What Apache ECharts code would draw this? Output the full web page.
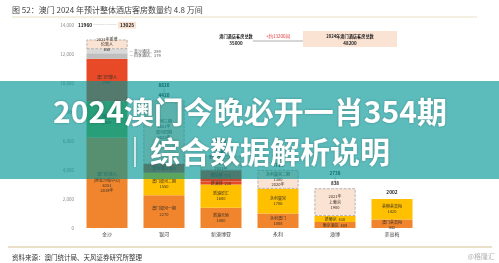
<!DOCTYPE html>
<html><head><meta charset="utf-8">
<script src="https://cdn.jsdelivr.net/npm/echarts@6/dist/echarts.min.js"></script>
<style>html,body{margin:0;padding:0;background:#fff}#c{width:499px;height:263px}</style>
</head><body><div id="c"></div>
<script>
// ---------------- data ----------------
const categories = ['金沙', '银河', '新濠博亚', '永利', '澳博', '美高梅'];

const sandsRooms  = [6251, 2509, 2947, 379, 289, 650];
const sandsKinds  = ['orange', 'green', 'red', 'grayDark', 'grayLight', 'newBox'];
const sandsLabels = ['澳门伦敦人\n(原金沙城中心)\n6251\n2019年', '澳门威尼斯人\n2509', '澳门巴黎人\n2947', '四季酒店，379', '金沙酒店，289', '2021年新增\n伦敦人\n650'];

const galaxyRooms  = [2270, 1550, 600, 4400];
const galaxyKinds  = ['orange', 'yellow', 'dark', 'newBox'];
const galaxyLabels = ['澳门银河一期\n2270', '澳门银河二期\n1550', '星际酒店 600', '银河三期\n2021年\n银河四期\n2023年\n4400'];

const melcoRooms  = [1400, 1600, 216, 772, 999];
const melcoKinds  = ['orange', 'yellow', 'red', 'dark', 'newBox'];
const melcoLabels = ['新濠天地\n1400', '新濠影汇\n1600', '新濠锋  216', '摩珀斯  772', '新濠影汇二期\n999\n2021年'];

const wynnRooms  = [1008, 1706, 1300];
const wynnKinds  = ['orange', 'yellow', 'newBox'];
const wynnLabels = ['永利澳门\n1008', '永利皇宫\n1706', '永利皇宫二期\n1300\n2020年'];

const sjmRooms  = [408, 430, 1900];
const sjmKinds  = ['orange', 'yellow', 'newBox'];
const sjmLabels = ['葡京酒店  408', '新葡京  430', '2021年\n上葡京\n1900'];

const mgmRooms  = [582, 1420];
const mgmKinds  = ['orange', 'yellow'];
const mgmLabels = ['澳门美高梅\n582', '美狮美高梅\n1420'];

const plannedTotals  = ['13025', '8820', '4987', '4014', '2738', '2002'];
const existingTotals = ['11960', '4420', '3988', '2714', '838', ''];

const title = '图 52：澳门 2024 年预计整体酒店客房数量约 4.8 万间';
const source = '资料来源：澳门统计局、天风证券研究所整理';
const bannerLine1 = '2024澳门今晚必开一肖354期';
const bannerLine2 = '｜综合数据解析说明';
const totalNow = '35000';
const totalAdd = '+约13200间';
const total2024 = '48200';

// ---------------- build ----------------
const kindColors = {
  orange: '#f0852d', yellow: '#ffc000', red: '#e84a27', green: '#70ad47',
  grayDark: '#bfbfbf', grayLight: '#d9d9d9', dark: '#d04a2a', newBox: '#fbe3d3'
};
const companies = [
  { rooms: sandsRooms, kinds: sandsKinds, labels: sandsLabels },
  { rooms: galaxyRooms, kinds: galaxyKinds, labels: galaxyLabels },
  { rooms: melcoRooms, kinds: melcoKinds, labels: melcoLabels },
  { rooms: wynnRooms, kinds: wynnKinds, labels: wynnLabels },
  { rooms: sjmRooms, kinds: sjmKinds, labels: sjmLabels },
  { rooms: mgmRooms, kinds: mgmKinds, labels: mgmLabels }
];
const FONT = '"Noto Sans CJK SC", "Noto Sans", sans-serif';
const layers = Math.max(...companies.map(c => c.rooms.length));
const series = [];
for (let i = 0; i < layers; i++) {
  series.push({
    type: 'bar', stack: 'all', barWidth: 41, z: 2,
    data: companies.map((c, j) => {
      if (i >= c.rooms.length) return { value: null };
      const kind = c.kinds[i];
      const txt = c.labels[i];
      const item = {
        value: c.rooms[i],
        itemStyle: { color: kindColors[kind] },
        label: {
          show: true, position: 'inside', fontSize: 4, lineHeight: 5.3,
          color: '#3b2f25', formatter: () => txt
        }
      };
      if (kind === 'newBox') {
        item.itemStyle.borderColor = '#9a9a9a';
        item.itemStyle.borderType = 'dashed';
        item.itemStyle.borderWidth = 0.7;
      }
      if (kind === 'grayDark' || kind === 'grayLight') {
        item.label.position = 'right';
        item.label.distance = 2;
        item.label.color = '#555';
        item.label.formatter = () => '— ' + txt;
      }
      if (j === 5 && i === 0) {
        item.label.position = 'bottom';
        item.label.distance = 0;
        item.label.offset = [0, -8];
      }
      return item;
    })
  });
}
// totals label series (zero-height at stack top)
series.push({
  type: 'bar', stack: 'all', barWidth: 41, z: 3,
  itemStyle: { color: 'rgba(0,0,0,0)' },
  data: companies.map((c, j) => {
    let label;
    if (j === 0) {
      label = {
        show: true, position: 'top', distance: 11,
        formatter: () => '{a|' + existingTotals[0] + '}{l| ―――――― }{b|' + plannedTotals[0] + '}',
        rich: {
          a: { fontSize: 4.8, fontWeight: 'bold', color: '#222' },
          l: { fontSize: 4, color: '#666' },
          b: { fontSize: 4.8, fontWeight: 'bold', color: '#222', backgroundColor: '#fbe3d3', padding: [1, 2] }
        }
      };
    } else if (existingTotals[j] === '') {
      label = {
        show: true, position: 'top', distance: 4,
        formatter: () => '{t|' + plannedTotals[j] + '}',
        rich: { t: { fontSize: 4.8, fontWeight: 'bold', color: '#222' } }
      };
    } else {
      label = {
        show: true, position: 'top', distance: 2,
        formatter: () => '{t|' + plannedTotals[j] + '}\n{s||}\n{e|' + existingTotals[j] + '}',
        rich: {
          t: { fontSize: 4.6, fontWeight: 'bold', color: '#222', lineHeight: 5.5 },
          s: { fontSize: 4, color: '#555', lineHeight: 4.5 },
          e: { fontSize: 4.6, fontWeight: 'bold', color: '#222', lineHeight: 5.5 }
        }
      };
    }
    return { value: 0, label };
  })
});

const Z = 100;
const graphic = [
  { type: 'text', x: 12, y: 10, z: Z, style: { text: title, fontSize: 8, fontFamily: FONT, fill: '#444', verticalAlign: 'middle' } },
  { type: 'line', z: Z, shape: { x1: 12, y1: 17, x2: 477, y2: 17 }, style: { stroke: '#eadfc4', lineWidth: 1 } },
  { type: 'text', x: 236, y: 36, z: Z, style: { text: '澳门酒店客房总数', fontSize: 4.2, fontWeight: 'bold', fontFamily: FONT, fill: '#222', align: 'center', verticalAlign: 'middle' } },
  { type: 'text', x: 236, y: 43, z: Z, style: { text: totalNow, fontSize: 4.5, fontWeight: 'bold', fontFamily: FONT, fill: '#222', align: 'center', verticalAlign: 'middle' } },
  { type: 'line', z: Z, shape: { x1: 253, y1: 41, x2: 303, y2: 41 }, style: { stroke: '#777', lineWidth: 0.6 } },
  { type: 'text', x: 278, y: 36, z: Z, style: { text: totalAdd, fontSize: 4.5, fontFamily: FONT, fill: '#e03030', align: 'center', verticalAlign: 'middle' } },
  { type: 'rect', z: Z, shape: { x: 303, y: 31, width: 94, height: 16 }, style: { fill: '#fbe3d3' } },
  { type: 'text', x: 350, y: 36, z: Z, style: { text: '2024年澳门酒店客房总数', fontSize: 4.2, fontWeight: 'bold', fontFamily: FONT, fill: '#222', align: 'center', verticalAlign: 'middle' } },
  { type: 'text', x: 350, y: 43, z: Z, style: { text: total2024, fontSize: 4.5, fontWeight: 'bold', fontFamily: FONT, fill: '#222', align: 'center', verticalAlign: 'middle' } },
  { type: 'line', z: Z, shape: { x1: 8, y1: 247, x2: 492, y2: 247 }, style: { stroke: '#e2d6b4', lineWidth: 1.5 } },
  { type: 'text', x: 12, y: 258, z: Z, style: { text: source, fontSize: 6.5, fontFamily: FONT, fill: '#333', verticalAlign: 'middle' } },
  { type: 'text', x: 495, y: 256, z: Z, style: { text: '@格隆汇', fontSize: 7, fontFamily: FONT, fill: '#b5b5b5', align: 'right', verticalAlign: 'middle' } },
  { type: 'rect', z: Z + 10, shape: { x: 0, y: 81, width: 499, height: 98 }, style: { fill: 'rgba(0,150,150,0.64)' } },
  { type: 'text', x: 250, y: 112, z: Z + 11, style: { text: bannerLine1, fontSize: 30, fontWeight: 'bold', fontFamily: FONT, fill: '#ffffff', align: 'center', verticalAlign: 'middle', textShadowColor: 'rgba(0,0,0,0.25)', textShadowBlur: 3 } },
  { type: 'text', x: 255, y: 152, z: Z + 11, style: { text: bannerLine2, fontSize: 30, fontWeight: 'bold', fontFamily: FONT, fill: '#ffffff', align: 'center', verticalAlign: 'middle', textShadowColor: 'rgba(0,0,0,0.25)', textShadowBlur: 3 } }
];

const chart = echarts.init(document.getElementById('c'), null, { renderer: 'canvas' });
chart.setOption({
  animation: false,
  textStyle: { fontFamily: FONT },
  grid: { left: 78.5, width: 342, top: 25.5, height: 202.5 },
  xAxis: {
    type: 'category', data: categories,
    axisLine: { show: false }, axisTick: { show: false },
    axisLabel: { fontSize: 5, color: '#444', margin: 4 }
  },
  yAxis: {
    type: 'value', min: 0, max: 14000, interval: 2000,
    axisLine: { show: false }, axisTick: { show: false }, splitLine: { show: false },
    axisLabel: { fontSize: 4.5, color: '#888', margin: 4.5 }
  },
  series: series,
  graphic: graphic
});
</script>
</body></html>
